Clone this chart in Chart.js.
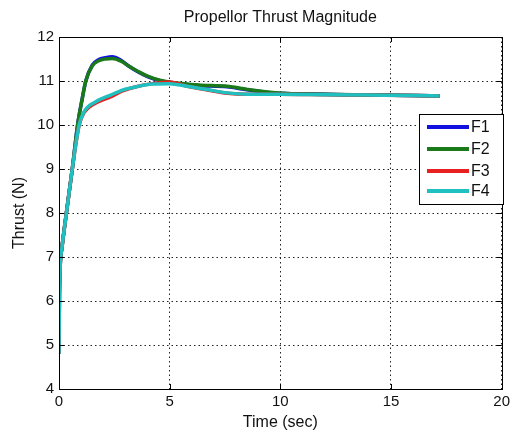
<!DOCTYPE html>
<html>
<head>
<meta charset="utf-8">
<script src="https://cdn.jsdelivr.net/npm/chart.js@4/dist/chart.umd.min.js"></script>
<style>
html,body{margin:0;padding:0;background:#fff;}
#wrap{width:514px;height:432px;}
</style>
</head>
<body>
<div id="wrap"><canvas id="c" width="514" height="432"></canvas></div>
<script>
const chartTitle = 'Propellor Thrust Magnitude';
const xTitle = 'Time (sec)';
const yTitle = 'Thrust (N)';
const seriesLabels = ['F1', 'F2', 'F3', 'F4'];
const seriesColors = ['#1010e0', '#1a7a1a', '#e82020', '#20c0c0'];

const t12 = [0, 0.02, 0.13, 0.39, 0.6, 0.84, 1.05, 1.21, 1.5, 1.8, 2.1, 2.4, 2.8, 3.18, 3.6, 4.0, 4.6, 5.2, 6.3, 7.6, 8.5, 9.9, 12, 14, 16, 17.2];
const f1 = [4.8, 6.2, 7.2, 8.22, 9.0, 10.0, 10.6, 11.0, 11.36, 11.49, 11.53, 11.55, 11.47, 11.33, 11.2, 11.1, 11.0, 10.95, 10.9, 10.87, 10.8, 10.72, 10.7, 10.68, 10.67, 10.66];
const f2 = [4.8, 6.2, 7.2, 8.22, 9.0, 10.0, 10.6, 11.0, 11.34, 11.46, 11.5, 11.51, 11.45, 11.33, 11.21, 11.11, 11.01, 10.96, 10.91, 10.88, 10.81, 10.73, 10.7, 10.68, 10.67, 10.66];
const t34 = [0, 0.02, 0.13, 0.39, 0.6, 0.91, 1.13, 1.66, 2.33, 2.9, 3.5, 4.2, 5.0, 5.8, 6.75, 7.6, 8.5, 10, 12, 14, 16, 17.2];
const f3 = [4.8, 6.2, 7.2, 8.2, 9.0, 10.0, 10.28, 10.5, 10.64, 10.78, 10.87, 10.94, 10.98, 10.88, 10.79, 10.72, 10.7, 10.7, 10.69, 10.68, 10.67, 10.66];
const f4 = [4.8, 6.2, 7.2, 8.2, 9.0, 10.0, 10.3, 10.53, 10.68, 10.8, 10.87, 10.93, 10.94, 10.88, 10.8, 10.73, 10.7, 10.7, 10.69, 10.68, 10.67, 10.66];

const xMin = 0, xMax = 20, xStep = 5;
const yMin = 4, yMax = 12, yStep = 1;

function pts(ts, vs){ return ts.map((t,i)=>({x:t, y:vs[i]})); }
const seriesData = [pts(t12,f1), pts(t12,f2), pts(t34,f3), pts(t34,f4)];

const FONT = "'Liberation Sans', Arial, Helvetica, sans-serif";

const framePlugin = {
  id: 'frame',
  afterDraw(chart){
    const {ctx, chartArea:a} = chart;
    ctx.save();
    ctx.strokeStyle = '#000';
    ctx.lineWidth = 1;
    ctx.setLineDash([]);
    ctx.strokeRect(Math.round(a.left)+0.5, Math.round(a.top)+0.5, Math.round(a.right-a.left), Math.round(a.bottom-a.top));
    const xs = chart.scales.x, ys = chart.scales.y;
    ctx.beginPath();
    for(let v=xMin; v<=xMax; v+=xStep){
      const px = Math.round(xs.getPixelForValue(v))+0.5;
      ctx.moveTo(px, a.bottom); ctx.lineTo(px, a.bottom-5);
      ctx.moveTo(px, a.top); ctx.lineTo(px, a.top+5);
    }
    for(let v=yMin; v<=yMax; v+=yStep){
      const py = Math.round(ys.getPixelForValue(v))+0.5;
      ctx.moveTo(a.left, py); ctx.lineTo(a.left+5, py);
      ctx.moveTo(a.right, py); ctx.lineTo(a.right-5, py);
    }
    ctx.stroke();
    ctx.fillStyle = '#111';
    ctx.font = '16px ' + FONT;
    ctx.textAlign = 'center';
    ctx.textBaseline = 'middle';
    ctx.fillText(chartTitle, (a.left+a.right)/2, 18);
    const bx = 419, by = 114, bw = 84, bh = 90;
    ctx.fillStyle = '#fff';
    ctx.fillRect(bx, by, bw, bh);
    ctx.strokeStyle = '#000';
    ctx.strokeRect(bx+0.5, by+0.5, bw, bh);
    const rows = [127, 149, 171, 191];
    chart.data.datasets.forEach((ds,i)=>{
      ctx.strokeStyle = ds.borderColor;
      ctx.lineWidth = 4;
      ctx.beginPath();
      ctx.moveTo(427, rows[i]); ctx.lineTo(469, rows[i]);
      ctx.stroke();
      ctx.fillStyle = '#111';
      ctx.font = '16px ' + FONT;
      ctx.textAlign = 'left';
      ctx.fillText(ds.label, 471, rows[i]+1);
    });
    ctx.restore();
  }
};

new Chart(document.getElementById('c'), {
  type: 'scatter',
  data: {
    datasets: seriesLabels.map((lab,i)=>({
      label: lab,
      data: seriesData[i],
      showLine: true,
      borderColor: seriesColors[i],
      backgroundColor: seriesColors[i],
      borderWidth: 3.5,
      pointRadius: 0,
      cubicInterpolationMode: 'monotone',
      order: 4 - i
    }))
  },
  options: {
    responsive: false,
    animation: false,
    devicePixelRatio: 1,
    layout: { padding: { top: 37, right: 8, left: 0, bottom: 0 } },
    plugins: { legend: { display: false }, title: { display: false }, tooltip: { enabled: false } },
    scales: {
      x: {
        type: 'linear', min: xMin, max: xMax,
        ticks: { stepSize: xStep, color: '#111', font: { size: 15, family: FONT }, padding: 4, maxRotation: 0 },
        grid: { color: '#222', lineWidth: 1, drawTicks: false, tickLength: 0 },
        border: { display: false, dash: [1.5, 3] },
        title: { display: true, text: xTitle, color: '#111', font: { size: 16, family: FONT }, padding: { top: 0, bottom: 0 } },
        afterFit(s){ s.height = 43; }
      },
      y: {
        type: 'linear', min: yMin, max: yMax,
        ticks: { stepSize: yStep, color: '#111', font: { size: 15, family: FONT }, padding: 5 },
        grid: { color: '#222', lineWidth: 1, drawTicks: false, tickLength: 0 },
        border: { display: false, dash: [1.5, 3] },
        title: { display: true, text: yTitle, color: '#111', font: { size: 16, family: FONT }, padding: { top: 10, bottom: 0 } },
        afterFit(s){ s.width = 59; }
      }
    }
  },
  plugins: [framePlugin]
});
</script>
</body>
</html>
